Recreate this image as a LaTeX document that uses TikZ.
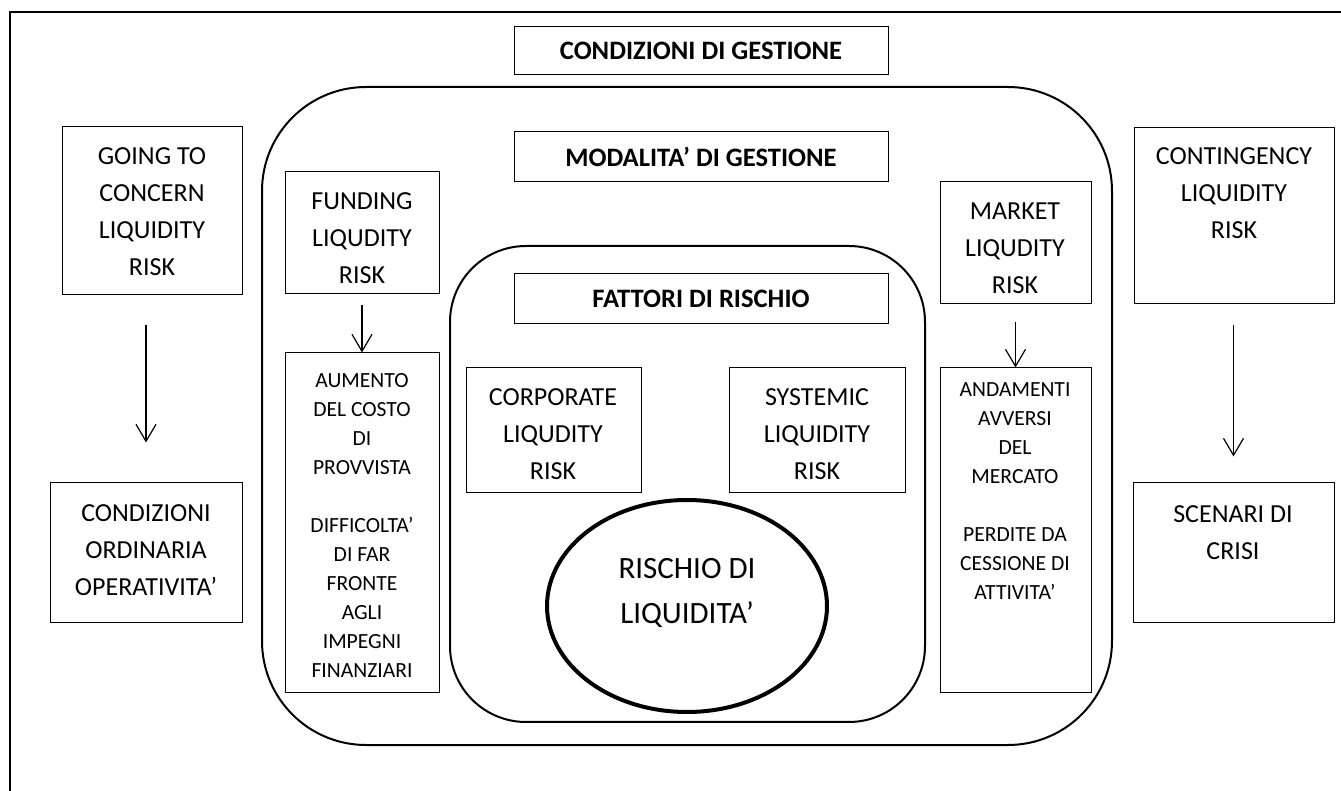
\documentclass[tikz,border=0pt]{standalone}
\usepackage{fontspec}
\setmainfont{Carlito}
\usetikzlibrary{arrows.meta,fit,shapes.geometric}

\begin{document}
\begin{tikzpicture}[x=0.5pt,y=-0.5pt,
    box/.style={draw,line width=0.5pt,inner sep=0pt},
    roundbox/.style={draw,line width=1pt,inner sep=0pt,rounded corners=#1},
    txt/.style={align=center,inner sep=0pt,anchor=north,font=\fontsize{13}{18.6}\selectfont},
    small/.style={align=center,inner sep=0pt,anchor=north,font=\fontsize{10.8}{14.5}\selectfont},
    head/.style={inner sep=0pt,font=\bfseries\fontsize{13.3}{15}\selectfont},
    arr/.style={-{Straight Barb[length=8.5pt,width=10pt]},line width=0.6pt}]
  \useasboundingbox (0,0) rectangle (1341,791);
  \draw[line width=1pt] (10,791) -- (10,12) -- (1341,12);

  \node[roundbox=52pt,fit={(262,87) (1112,745)}] (outer) {};
  \node[roundbox=38pt,fit={(450,246) (925,722)}] (inner) {};

  \node[box,fit={(514,27) (888,75)}] (cond) {};
  \node[head] (condT) at (cond.center) {CONDIZIONI DI GESTIONE};
  \node[box,fit={(514,132) (888,182)}] (moda) {};
  \node[head] (modaT) at (moda.center) {MODALITA’ DI GESTIONE};
  \node[box,fit={(514,274) (888,324)}] (fatt) {};
  \node[head] (fattT) at (fatt.center) {FATTORI DI RISCHIO};

  \node[box,fit={(62,127) (242,295)}] (going) {};
  \node[txt] (goingT) at (152,147) {GOING TO\\CONCERN\\LIQUIDITY\\RISK};
  \node[box,fit={(50,483) (242,623)}] (ordin) {};
  \node[txt] (ordinT) at (146,504) {CONDIZIONI\\ORDINARIA\\OPERATIVITA’};

  \node[box,fit={(285,172) (439,294)}] (funding) {};
  \node[txt] (fundingT) at (362,192) {FUNDING\\LIQUDITY\\RISK};
  \node[box,fit={(285,353) (439,693)}] (aumento) {};
  \node[small] (aumentoT) at (362,373) {AUMENTO\\DEL COSTO\\DI\\PROVVISTA\\[14.5pt]DIFFICOLTA’\\DI FAR\\FRONTE\\AGLI\\IMPEGNI\\FINANZIARI};

  \node[box,fit={(940,182) (1091,304)}] (market) {};
  \node[txt] (marketT) at (1015,202) {MARKET\\LIQUDITY\\RISK};
  \node[box,fit={(940,368) (1091,693)}] (andam) {};
  \node[small] (andamT) at (1015,382) {ANDAMENTI\\AVVERSI\\DEL\\MERCATO\\[14.5pt]PERDITE DA\\CESSIONE DI\\ATTIVITA’};

  \node[box,fit={(1134,128) (1334,304)}] (conting) {};
  \node[txt] (contingT) at (1234,147) {CONTINGENCY\\LIQUIDITY\\RISK};
  \node[box,fit={(1133,483) (1334,623)}] (scenari) {};
  \node[txt] (scenariT) at (1233,505) {SCENARI DI\\CRISI};

  \node[box,fit={(466,368) (641,493)}] (corp) {};
  \node[txt] (corpT) at (553,388) {CORPORATE\\LIQUDITY\\RISK};
  \node[box,fit={(729,368) (905,493)}] (syst) {};
  \node[txt] (systT) at (817,388) {SYSTEMIC\\LIQUIDITY\\RISK};

  \node[ellipse,draw,line width=2pt,minimum width=140pt,minimum height=106pt,inner sep=0pt] (rischio) at (687,606) {};
  \node[align=center,inner sep=0pt,anchor=north,font=\fontsize{15.5}{22.5}\selectfont] (rischioT) at (687,558) {RISCHIO DI\\LIQUIDITA’};

  \draw[arr,shorten <=15pt,shorten >=20pt] (ordin.north |- going.south) -- (ordin.north);
  \draw[arr,shorten <=5.5pt] (funding.south) -- (aumento.north);
  \draw[arr,shorten <=9pt] (market.south) -- (andam.north);
  \draw[arr,shorten <=10.5pt,shorten >=13pt] (scenari.north |- conting.south) -- (scenari.north);
\end{tikzpicture}
\end{document}
